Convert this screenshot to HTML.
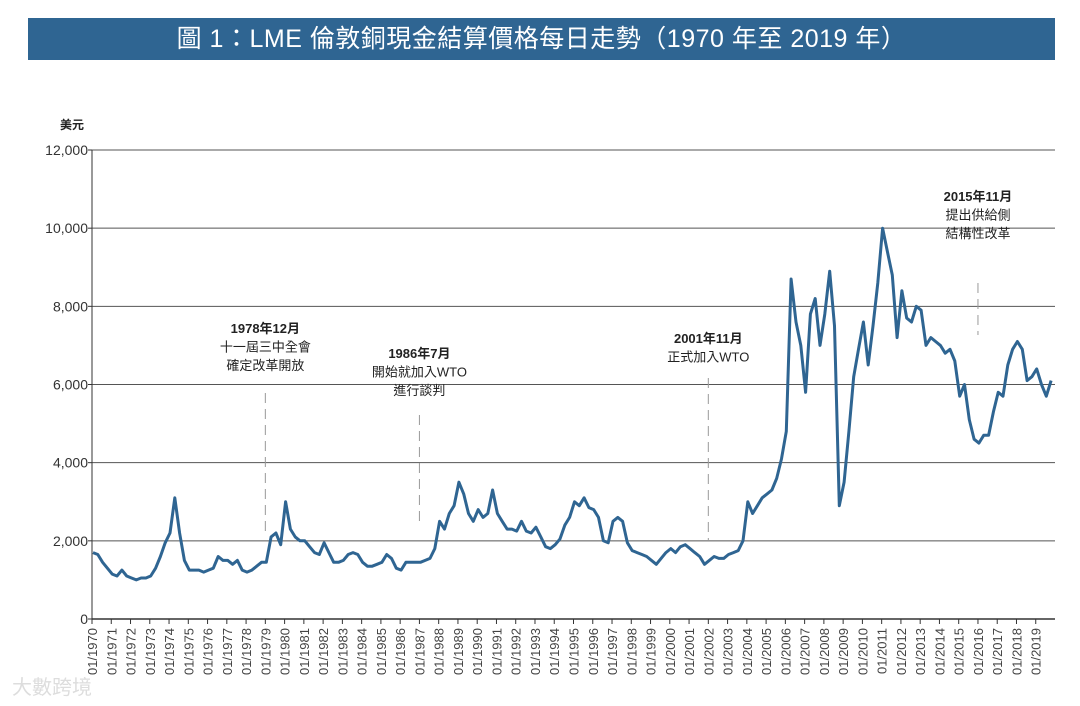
<!DOCTYPE html>
<html><head><meta charset="utf-8"><style>
body{margin:0;background:#fff;width:1080px;height:706px;overflow:hidden;font-family:"Liberation Sans","Noto Sans CJK TC",sans-serif}
#title{position:absolute;left:28px;top:18px;width:1027px;height:42px;background:#2f6592;color:#fff;font-size:25px;line-height:42px;text-align:center;letter-spacing:0.5px}
</style></head><body>
<div id="title">圖 1：LME 倫敦銅現金結算價格每日走勢（1970 年至 2019 年）</div>
<svg id="chart" width="1080" height="706" style="position:absolute;left:0;top:0"></svg>
<script>
const years=[];for(let y=1970;y<=2019;y++)years.push(y);
const prices=[
1700,1650,1450,1300, 1150,1100,1250,1100, 1050,1000,1050,1050, 1100,1300,1600,1950,
2200,3100,2200,1500, 1250,1250,1250,1200, 1250,1300,1600,1500, 1500,1400,1500,1250,
1200,1250,1350,1450, 1450,2100,2200,1900, 3000,2300,2100,2000, 2000,1850,1700,1650,
1950,1700,1450,1450, 1500,1650,1700,1650, 1450,1350,1350,1400, 1450,1650,1550,1300,
1250,1450,1450,1450, 1450,1500,1550,1800, 2500,2300,2700,2900, 3500,3200,2700,2500,
2800,2600,2700,3300, 2700,2500,2300,2300, 2250,2500,2250,2200, 2350,2100,1850,1800,
1900,2050,2400,2600, 3000,2900,3100,2850, 2800,2600,2000,1950, 2500,2600,2500,1950,
1750,1700,1650,1600, 1500,1400,1550,1700, 1800,1700,1850,1900, 1800,1700,1600,1400,
1500,1600,1550,1550, 1650,1700,1750,2000, 3000,2700,2900,3100, 3200,3300,3600,4100,
4800,8700,7600,7000, 5800,7800,8200,7000, 7800,8900,7500,2900, 3500,4800,6200,6900,
7600,6500,7500,8600, 10000,9400,8800,7200, 8400,7700,7600,8000, 7900,7000,7200,7100,
7000,6800,6900,6600, 5700,6000,5100,4600, 4500,4700,4700,5300, 5800,5700,6500,6900,
7100,6900,6100,6200, 6400,6000,5700,6100];
const yTicks=[0,2000,4000,6000,8000,10000,12000];
const notes=[
 {t:1979.0,lines:["1978年12月","十一屆三中全會","確定改革開放"],ty:333,y1:393,y2:535},
 {t:1987.0,lines:["1986年7月","開始就加入WTO","進行談判"],ty:358,y1:415,y2:525},
 {t:2002.0,lines:["2001年11月","正式加入WTO"],ty:343,y1:378,y2:540},
 {t:2016.0,lines:["2015年11月","提出供給側","結構性改革"],ty:201,y1:283,y2:335}];
const X0=92,X1=1055,Y0=619,Y1=150;
const xs=t=>X0+(t-1970)/50*(X1-X0);
const ys=v=>Y0-v/12000*(Y0-Y1);
const svg=document.getElementById('chart');const NS='http://www.w3.org/2000/svg';
function mk(tag,at,txt){const e=document.createElementNS(NS,tag);for(const k in at)e.setAttribute(k,at[k]);if(txt!=null)e.textContent=txt;svg.appendChild(e);return e;}
let e;
e=mk('text',{x:72,y:129,'font-size':12,'font-weight':'bold','text-anchor':'middle',fill:'#222'},'美元');


yTicks.forEach(v=>{
 e=mk('line',{x1:X0,x2:X1,y1:ys(v),y2:ys(v),stroke:v===0?'#333':'#555','stroke-width':v===0?1.5:1});
 
 
 mk('line',{x1:X0-4,x2:X0,y1:ys(v),y2:ys(v),stroke:'#333'});
 e=mk('text',{x:X0-4,y:ys(v)+5,'font-size':14,'text-anchor':'end',fill:'#333'},v.toLocaleString('en-US'));
 
 
});
mk('line',{x1:X0,x2:X0,y1:Y1,y2:Y0+4,stroke:'#333'});
years.forEach(y=>{
 const x=xs(y);
 mk('line',{x1:x,x2:x,y1:Y0,y2:Y0+5,stroke:'#333'});
 e=mk('text',{x:0,y:0,'font-size':13,'text-anchor':'end',fill:'#444',transform:`translate(${x+5},${Y0+9}) rotate(-90)`},'01/'+y);
 
 
});
let d='';prices.forEach((v,i)=>{d+=(i?'L':'M')+xs(1970+i/4+0.05).toFixed(1)+','+ys(v).toFixed(1);});
e=mk('path',{d:d,fill:'none',stroke:'#2f6592','stroke-width':3,'stroke-linejoin':'round'});


notes.forEach(n=>{
 const x=xs(n.t);
 e=mk('line',{x1:x,x2:x,y1:n.y1,y2:n.y2,stroke:'#999','stroke-dasharray':'10,6'});
 
 
 n.lines.forEach((l,i)=>{
  e=mk('text',{x:x,y:n.ty+i*18.5,'font-size':13,'font-weight':i===0?'bold':'normal','text-anchor':'middle',fill:'#222'},l);
  
  
 });
});
e=mk('text',{x:12,y:694,'font-size':20,fill:'#ddd'},'大數跨境');


</script>
</body></html>
